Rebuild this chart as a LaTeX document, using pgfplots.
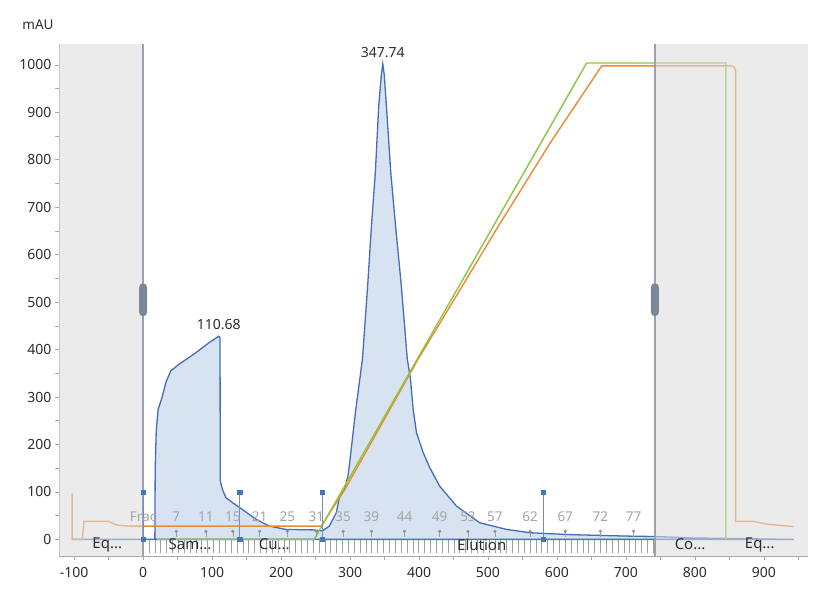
\documentclass[border=0pt]{standalone}
\usepackage{pgfplots}
\usepackage{pgfplotstable}
\pgfplotsset{compat=1.18}
\usepackage{fontspec}
\setmainfont{Noto Sans}
\definecolor{uvline}{RGB}{70,108,185}
\definecolor{uvfill}{RGB}{212,224,241}
\definecolor{condo}{RGB}{238,138,52}
\definecolor{concb}{RGB}{140,198,63}
\definecolor{teal0}{RGB}{109,151,166}
\definecolor{fracblue}{RGB}{68,114,196}
\definecolor{markline}{RGB}{110,140,210}
\definecolor{regiongray}{RGB}{220,220,220}
\definecolor{bound}{RGB}{160,160,170}
\definecolor{axgray}{RGB}{170,170,170}
\definecolor{fraclab}{RGB}{165,165,165}
\definecolor{txt}{RGB}{45,45,45}
\definecolor{handle}{RGB}{120,136,152}

\pgfplotstableread{
x y
-103 0
17 0
17.5 150
19 230
21.8 274
28 302
33 331
40 355
52 369
77 394
96 415
109.5 428
111.5 425
111.8 123
115 105
120 88
130 77
144 63
164 42
183 28
207 21
246 20
260 18
270 28
280 56
285 91
292 105
297 134
299.5 162
308 270
318 380
326 545
331 660
336.7 774
341.6 914
345.5 980
347.5 1002
349.5 980
352.7 914
359 774
366 660
374 540
383 380
387.6 338
391.5 274
396.3 225
406 183
415.7 151
430 112
454.5 70
488 35
527 21
561 14
620 10
700 7
743 6
800 3
943 0
}\uvdata

\pgfplotstableread{
x y
-103 97
-103 0
-88 0
-86 38
-50 38
-38 30
-20 28
258 28
292 104
398 378
515 660
590 835
665 998
853 998
857 995
859 988
859 38
885 38
905 32
943 27
}\conddata

\pgfplotstableread{
x y
20 0
248 0
643 1004
845 1004
845 0
}\concbdata

\pgfplotstableread{
x y
8.5 0
17 0
25.5 0
34 0
42.5 0
51 0
59.5 0
68 0
76.5 0
85 0
93.5 0
102 0
110.5 0
119 0
127.5 0
136 0
144.5 0
153 0
161.5 0
170 0
178.5 0
187 0
195.5 0
204 0
212.5 0
221 0
229.5 0
238 0
246.5 0
255 0
263.5 0
272 0
280.5 0
289 0
297.5 0
306 0
314.5 0
323 0
331.5 0
340 0
348.5 0
357 0
365.5 0
374 0
382.5 0
391 0
399.5 0
408 0
416.5 0
425 0
433.5 0
442 0
450.5 0
459 0
467.5 0
476 0
484.5 0
493 0
501.5 0
510 0
518.5 0
527 0
535.5 0
544 0
552.5 0
561 0
569.5 0
578 0
586.5 0
595 0
603.5 0
612 0
620.5 0
629 0
637.5 0
646 0
654.5 0
663 0
671.5 0
680 0
688.5 0
697 0
705.5 0
714 0
722.5 0
731 0
739.5 0
}\fracticks

\pgfplotstableread{
x y lab
0 47 Frac
48 47 7
91 47 11
130 47 15
169 47 21
209 47 25
251 47 31
290 47 35
331 47 39
379 47 44
430 47 49
471 47 53
510 47 57
561 47 62
612 47 67
663 47 72
711 47 77
}\fraclabels

\pgfplotstableread{
x y
48 5
91 5
130 5
169 5
209 5
251 5
290 5
331 5
379 5
430 5
471 5
510 5
561 5
612 5
663 5
711 5
}\fracstems

\pgfplotstableread{
x y
48 17
91 17
130 17
169 17
209 17
251 17
290 17
331 17
379 17
430 17
471 17
510 17
561 17
612 17
663 17
711 17
}\fracdots

\pgfplotstableread{
x y lab
-52 -11 Eq...
68 -11 Sam...
190 -11 Cu...
491 -11 Elution
793 -11 Co...
894 -11 Eq...
}\phases

\pgfplotstableread{
x y
0 0
140 0
260 0
580 0
}\events

\pgfplotstableread{
x y
0 100
140 100
260 100
580 100
}\eventtops

\begin{document}
\begin{tikzpicture}
\path[use as bounding box] (-59pt,-36pt) rectangle (768pt,556pt);
\begin{axis}[
  scale only axis, width=749pt, height=512pt,
  xmin=-122, xmax=964, ymin=-35, ymax=1044,
  axis x line=bottom, axis y line=left,
  axis line style={-, draw=axgray, line width=0.8pt},
  xtick={-100,0,...,900}, minor xtick={-50,50,...,950},
  ytick={0,100,...,1000}, minor ytick={50,150,...,950},
  tick align=outside, major tick length=4pt, minor tick length=4pt,
  tick style={axgray, line width=0.6pt},
  /pgf/number format/assume math mode=true,
  /pgf/number format/set thousands separator={},
  ticklabel style={font=\fontsize{14}{16}\selectfont, text=txt},
  xticklabel style={yshift=-4pt},
  clip=false,
]
% fraction ticks below baseline
\addplot[-, quiver={u=0, v=-28}, draw=gray!75, line width=0.6pt] table {\fracticks};
% baseline
\addplot[teal0, line width=1.2pt] coordinates {(-103,0) (943,0)};
% UV
\addplot[draw=uvline, line width=1.3pt, fill=uvfill, fill opacity=0.9] table {\uvdata} \closedcycle;
% fraction baseline
\addplot[fracblue, line width=1.5pt] coordinates {(0,0) (743,0)};
% conductivity and concentration
\addplot[condo, line width=1.4pt] table {\conddata};
\addplot[concb, line width=1.4pt] table {\concbdata};
% fraction label stems and dots
\addplot[-, quiver={u=0, v=12}, draw=gray!75, line width=0.6pt] table {\fracstems};
\addplot[only marks, mark=*, mark size=1.4pt, gray!85] table {\fracdots};
% fraction labels
\addplot[only marks, mark=none, nodes near coords, point meta=explicit symbolic,
  nodes near coords style={anchor=center, text=fraclab, font=\fontsize{13.5}{15}\selectfont}]
  table[meta=lab] {\fraclabels};
% phase labels
\addplot[only marks, mark=none, nodes near coords, point meta=explicit symbolic,
  nodes near coords style={anchor=center, text=txt, font=\fontsize{15}{17}\selectfont}]
  table[meta=lab] {\phases};
% gray regions
\fill[regiongray, fill opacity=0.57] (axis cs:-122,-35) rectangle (axis cs:0,1044);
\fill[regiongray, fill opacity=0.57] (axis cs:742,-35) rectangle (axis cs:964,1044);
\draw[bound, line width=1.5pt] (axis cs:0,-35) -- (axis cs:0,1044);
\draw[bound, line width=1.5pt] (axis cs:742,-35) -- (axis cs:742,1044);
% event markers
\addplot[-, quiver={u=0, v=100}, draw=markline, line width=1pt] table {\events};
\addplot[only marks, mark=square*, mark size=2.2pt, fracblue] table {\events};
\addplot[only marks, mark=square*, mark size=2.2pt, fracblue] table {\eventtops};
% handles
\node[fill=handle, rounded corners=4pt, minimum width=8pt, minimum height=33pt, inner sep=0pt] at (axis cs:0,505) {};
\node[fill=handle, rounded corners=4pt, minimum width=8pt, minimum height=33pt, inner sep=0pt] at (axis cs:742,505) {};
% peak labels
\addplot[only marks, mark=none, nodes near coords, point meta=explicit symbolic,
  nodes near coords style={anchor=south, yshift=3pt, text=txt, font=\fontsize{14}{16}\selectfont}]
  table[meta=lab] {
x y lab
109.5 428 110.68
347.5 1002 347.74
};
\node[text=txt, font=\fontsize{13.5}{15}\selectfont] at (rel axis cs:0,1) [xshift=-21pt, yshift=19pt] {mAU};
\end{axis}
\end{tikzpicture}
\end{document}
